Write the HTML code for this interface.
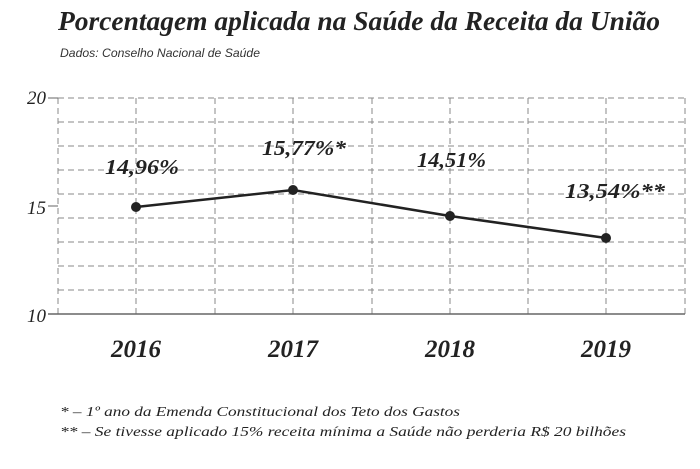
<!DOCTYPE html>
<html><head><meta charset="utf-8"><style>
body{margin:0;background:#fff;width:700px;height:464px;overflow:hidden}
</style></head><body>
<svg width="700" height="464" xmlns="http://www.w3.org/2000/svg" font-family="Liberation Serif, serif">
<text x="58" y="30" font-size="27" font-weight="bold" font-style="italic" fill="#222" textLength="602" lengthAdjust="spacingAndGlyphs">Porcentagem aplicada na Saúde da Receita da União</text>
<text x="60" y="57" font-size="12" font-style="italic" font-family="Liberation Sans, sans-serif" fill="#333" textLength="200" lengthAdjust="spacingAndGlyphs">Dados: Conselho Nacional de Saúde</text>
<g stroke="#888" stroke-width="1" stroke-dasharray="6,4">
<line x1="58" y1="98" x2="685" y2="98"/><line x1="58" y1="122" x2="685" y2="122"/><line x1="58" y1="146" x2="685" y2="146"/><line x1="58" y1="170" x2="685" y2="170"/><line x1="58" y1="194" x2="685" y2="194"/><line x1="58" y1="218" x2="685" y2="218"/><line x1="58" y1="242" x2="685" y2="242"/><line x1="58" y1="266" x2="685" y2="266"/><line x1="58" y1="290" x2="685" y2="290"/>
<line x1="58" y1="98" x2="58" y2="314"/><line x1="136" y1="98" x2="136" y2="314"/><line x1="215" y1="98" x2="215" y2="314"/><line x1="293" y1="98" x2="293" y2="314"/><line x1="372" y1="98" x2="372" y2="314"/><line x1="450" y1="98" x2="450" y2="314"/><line x1="528" y1="98" x2="528" y2="314"/><line x1="606" y1="98" x2="606" y2="314"/><line x1="685" y1="98" x2="685" y2="314"/>
</g>
<line x1="48" y1="314" x2="685" y2="314" stroke="#666" stroke-width="1.5"/>
<line x1="48" y1="98" x2="58" y2="98" stroke="#666"/><line x1="48" y1="206" x2="58" y2="206" stroke="#666"/>
<g font-size="19" font-style="italic" fill="#222" text-anchor="end">
<text x="46" y="104">20</text><text x="46" y="214">15</text><text x="46" y="322">10</text></g>
<polyline points="136,207 293,190 450,216 606,238" fill="none" stroke="#222" stroke-width="2.5"/>
<g fill="#222"><circle cx="136" cy="207" r="5"/><circle cx="293" cy="190" r="5"/><circle cx="450" cy="216" r="5"/><circle cx="606" cy="238" r="5"/></g>
<g font-size="21" font-weight="bold" font-style="italic" fill="#222">
<text x="105" y="174" textLength="74" lengthAdjust="spacingAndGlyphs">14,96%</text>
<text x="262" y="155" textLength="84" lengthAdjust="spacingAndGlyphs">15,77%*</text>
<text x="417" y="167" textLength="69" lengthAdjust="spacingAndGlyphs">14,51%</text>
<text x="565" y="198" textLength="100" lengthAdjust="spacingAndGlyphs">13,54%**</text></g>
<g font-size="25" font-weight="bold" font-style="italic" fill="#222" text-anchor="middle">
<text x="136" y="357">2016</text><text x="293" y="357">2017</text><text x="450" y="357">2018</text><text x="606" y="357">2019</text></g>
<g font-size="14" font-style="italic" fill="#222">
<text x="60" y="416" textLength="400" lengthAdjust="spacingAndGlyphs">* – 1º ano da Emenda Constitucional dos Teto dos Gastos</text>
<text x="60" y="436" textLength="566" lengthAdjust="spacingAndGlyphs">** – Se tivesse aplicado 15% receita mínima a Saúde não perderia R$ 20 bilhões</text></g>
</svg>
</body></html>
